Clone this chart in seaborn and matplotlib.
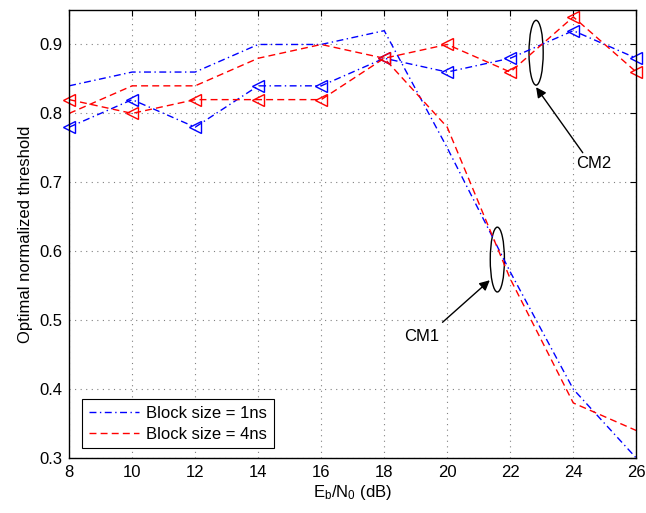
import matplotlib
matplotlib.use("Agg")
import matplotlib.pyplot as plt
from matplotlib.patches import Ellipse
from matplotlib.lines import Line2D
import seaborn as sns
import pandas as pd

ebn0 = [8, 10, 12, 14, 16, 18, 20, 22, 24, 26]
cm1_1ns = [0.84, 0.86, 0.86, 0.90, 0.90, 0.92, 0.75, 0.57, 0.40, 0.30]
cm1_4ns = [0.80, 0.84, 0.84, 0.88, 0.90, 0.88, 0.78, 0.56, 0.38, 0.34]
cm2_1ns = [0.78, 0.82, 0.78, 0.84, 0.84, 0.88, 0.86, 0.88, 0.92, 0.88]
cm2_4ns = [0.82, 0.80, 0.82, 0.82, 0.82, 0.88, 0.90, 0.86, 0.94, 0.86]
legend_labels = ["Block size = 1ns", "Block size = 4ns"]

sns.set_style("white")
plt.rcParams['font.family'] = ['Liberation Sans', 'DejaVu Sans']
plt.rcParams['mathtext.fontset'] = 'custom'
plt.rcParams['mathtext.rm'] = 'Liberation Sans'
plt.rcParams['mathtext.it'] = 'Liberation Sans'
plt.rcParams['text.color'] = 'black'
plt.rcParams['axes.labelcolor'] = 'black'
plt.rcParams['xtick.color'] = 'black'
plt.rcParams['ytick.color'] = 'black'

FS = 12

fig = plt.figure(figsize=(6.46, 5.13), dpi=100)
ax = fig.add_axes([0.107, 0.107, 0.878, 0.8735])

blue = '#0000ff'
red = '#ff0000'
dash_b = (5, 2.5, 1, 2.5)
dash_r = (5, 3)

series = [
    (cm1_1ns, blue, dash_b, None),
    (cm1_4ns, red, dash_r, None),
    (cm2_1ns, blue, dash_b, '<'),
    (cm2_4ns, red, dash_r, '<'),
]
for vals, col, dsh, mk in series:
    df = pd.DataFrame({"x": ebn0, "y": vals})
    kw = {}
    if mk:
        kw = dict(marker=mk, markersize=9, markerfacecolor='none',
                  markeredgecolor=col, markeredgewidth=1.0)
    sns.lineplot(data=df, x="x", y="y", ax=ax, color=col, lw=1.0,
                 legend=False, **kw)
    ln = ax.lines[-1]
    ln.set_dashes(dsh)
    if mk:
        ln.set_clip_on(False)

ax.set_xlim(8, 26)
ax.set_ylim(0.3, 0.95)
ax.set_xticks(range(8, 27, 2))
ax.set_yticks([0.3, 0.4, 0.5, 0.6, 0.7, 0.8, 0.9])
ax.set_yticklabels(["0.3", "0.4", "0.5", "0.6", "0.7", "0.8", "0.9"])
ax.grid(True, linestyle=(0, (1, 4)), color='#808080', linewidth=0.8)
ax.tick_params(direction='in', top=True, right=True, length=4, labelsize=FS,
               width=0.8, color='black', pad=5)
for s in ax.spines.values():
    s.set_color('black')
    s.set_linewidth(1.0)
    s.set_visible(True)

ax.set_xlabel(r'E$_{\rm b}$/N$_{\rm 0}$ (dB)', fontsize=FS, labelpad=2)
ax.set_ylabel('Optimal normalized threshold', fontsize=FS, labelpad=4)

# annotations
ax.add_patch(Ellipse((22.82, 0.888), 0.45, 0.094, fill=False, ec='black', lw=1.0))
ax.add_patch(Ellipse((21.59, 0.588), 0.45, 0.094, fill=False, ec='black', lw=1.0))
ax.annotate('', xy=(22.82, 0.838), xytext=(24.3, 0.743),
            arrowprops=dict(arrowstyle='-|>', color='black', lw=1.0,
                            mutation_scale=15, shrinkA=0, shrinkB=0))
ax.text(24.65, 0.727, 'CM2', fontsize=FS, ha='center', va='center')
ax.annotate('', xy=(21.35, 0.558), xytext=(19.85, 0.497),
            arrowprops=dict(arrowstyle='-|>', color='black', lw=1.0,
                            mutation_scale=15, shrinkA=0, shrinkB=0))
ax.text(19.2, 0.477, 'CM1', fontsize=FS, ha='center', va='center')

handles = [Line2D([], [], color=blue, lw=1.0, dashes=dash_b),
           Line2D([], [], color=red, lw=1.0, dashes=dash_r)]
leg = ax.legend(handles, legend_labels, loc='lower left', bbox_to_anchor=(0.023, 0.022),
                borderaxespad=0,
                fontsize=FS, frameon=True, fancybox=False, edgecolor='black',
                framealpha=1, handlelength=3.0, borderpad=0.4, labelspacing=0.35,
                handletextpad=0.45)
leg.get_frame().set_linewidth(0.8)

fig.savefig('out.png', dpi=100)
